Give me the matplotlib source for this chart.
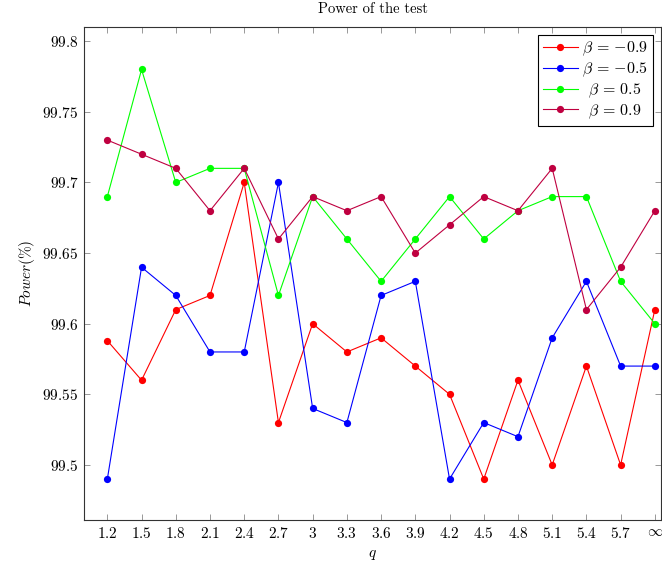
import matplotlib
matplotlib.use("Agg")
import matplotlib.pyplot as plt

plt.rcParams["mathtext.fontset"] = "cm"
plt.rcParams["font.family"] = "cmr10"
plt.rcParams["axes.formatter.use_mathtext"] = True

q_labels = ["1.2", "1.5", "1.8", "2.1", "2.4", "2.7", "3", "3.3", "3.6",
            "3.9", "4.2", "4.5", "4.8", "5.1", "5.4", "5.7", r"\infty"]

power_m09 = [99.588, 99.56, 99.61, 99.62, 99.70, 99.53, 99.60, 99.58, 99.59,
             99.57, 99.55, 99.49, 99.56, 99.50, 99.57, 99.50, 99.61]
power_m05 = [99.49, 99.64, 99.62, 99.58, 99.58, 99.70, 99.54, 99.53, 99.62,
             99.63, 99.49, 99.53, 99.52, 99.59, 99.63, 99.57, 99.57]
power_p05 = [99.69, 99.78, 99.70, 99.71, 99.71, 99.62, 99.69, 99.66, 99.63,
             99.66, 99.69, 99.66, 99.68, 99.69, 99.69, 99.63, 99.60]
power_p09 = [99.73, 99.72, 99.71, 99.68, 99.71, 99.66, 99.69, 99.68, 99.69,
             99.65, 99.67, 99.69, 99.68, 99.71, 99.61, 99.64, 99.68]

series = [
    (power_m09, "#ff0000", r"$\beta\,=\,{-0.9}$"),
    (power_m05, "#0000ff", r"$\beta\,=\,{-0.5}$"),
    (power_p05, "#00ff00", r"$\;\,\beta\,=\,0.5$"),
    (power_p09, "#bf0040", r"$\;\,\beta\,=\,0.9$"),
]

y_ticks = [99.5, 99.55, 99.6, 99.65, 99.7, 99.75, 99.8]
y_tick_labels = ["99.5", "99.55", "99.6", "99.65", "99.7", "99.75", "99.8"]

fig = plt.figure(figsize=(6.62, 5.65), dpi=100)
ax = fig.add_axes([0.127, 0.0796, 0.8715, 0.8724])

x = list(range(len(q_labels)))
for vals, color, label in series:
    ax.plot(x, vals, color=color, lw=0.8, marker="o", markersize=5.2,
            markeredgewidth=0, label=label)

ax.set_xlim(-0.68, 16.18)
ax.set_ylim(99.461, 99.81)
ax.set_xticks(x)
ax.set_xticklabels(["$" + s + "$" for s in q_labels], fontsize=11)
ax.set_yticks(y_ticks)
ax.set_yticklabels(["$" + s + "$" for s in y_tick_labels], fontsize=11)
ax.tick_params(direction="in", top=True, right=True, length=4,
               color="#888888", width=0.6, pad=4)
for sp in ax.spines.values():
    sp.set_linewidth(0.8)
    sp.set_color("#333333")

ax.set_xlabel("$q$", fontsize=11, labelpad=5)
ax.set_ylabel(r"$Power(\%)$", fontsize=11, labelpad=4)
ax.set_title("Power of the test", fontsize=10.5, pad=10)

leg = ax.legend(loc="upper right", fontsize=11.5, fancybox=False, framealpha=1,
                edgecolor="black", borderaxespad=0.5, handlelength=2.2,
                handletextpad=0.3, labelspacing=0.15, borderpad=0.3)
leg.get_frame().set_linewidth(0.8)

fig.savefig("out.png", dpi=100)
